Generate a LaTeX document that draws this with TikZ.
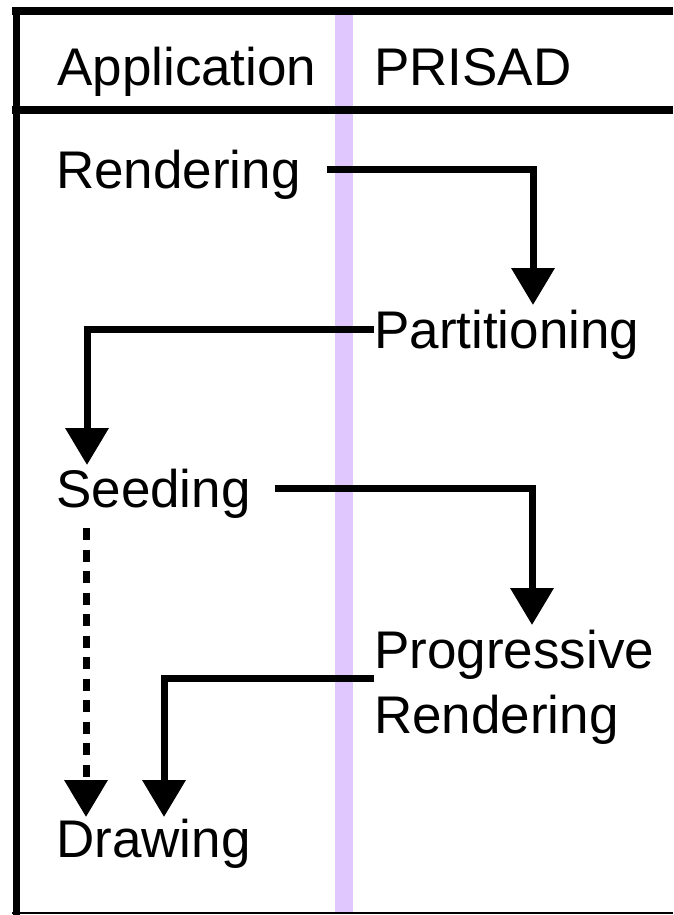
\documentclass[tikz,border=0pt]{standalone}
\usepackage{fontspec}
\setmainfont{Liberation Sans}
\usetikzlibrary{arrows.meta}
\definecolor{lanepurple}{RGB}{224,200,255}
\begin{document}
\begin{tikzpicture}[x=1pt, y=-1pt, line join=miter,
		lbl/.style={anchor=base west, inner sep=0pt, text height=48pt, text depth=10pt, font=\fontsize{53}{65}\selectfont},
		lbltwo/.style={anchor=north west, inner sep=0pt, align=left, font=\fontsize{53}{65}\selectfont},
		flow/.style={line width=7pt, -{Triangle[width=42pt, length=37pt]}}]
			\useasboundingbox (0,0) rectangle (673,915);
			\coordinate (tip1) at (533,305);
			\coordinate (tip2) at (87,465);
			\coordinate (tip3) at (532,625);
			\coordinate (tip4) at (164,817);
			\coordinate (dot0) at (86,528);
			\coordinate (tip5) at (86,817);
			
			\fill[lanepurple] (335,15) rectangle (353,913);
			\draw[line width=7pt] (16,7) -- (16,915);
			\draw[line width=8pt] (12,11) -- (673,11);
			\draw[line width=8pt] (12,110) -- (673,110);
			\draw[line width=2pt] (12,913) -- (673,913);
			
			\node[lbl] (app) at (57,86) {Application};
			\node[lbl] (prisad) at (374,86) {PRISAD};
			\node[lbl] (rend) at (56,188) {Rendering};
			\node[lbl] (part) at (374,348) {Partitioning};
			\node[lbl] (seed) at (56,507) {Seeding};
			\node[lbltwo] (prog) at (374,630) {Progressive\\Rendering};
			\node[lbl] (drw) at (56,857) {Drawing};
			
			\draw[flow] ([xshift=26pt]rend.east) -| (tip1);
			\draw[flow] (part.west) -| (tip2);
			\draw[flow] ([xshift=24pt]seed.east) -| (tip3);
			\draw[flow] ([yshift=9pt]prog.west) -| (tip4);
			\draw[flow, dash pattern=on 12pt off 9.5pt] (dot0) -- (tip5);
		\end{tikzpicture}
\end{document}
